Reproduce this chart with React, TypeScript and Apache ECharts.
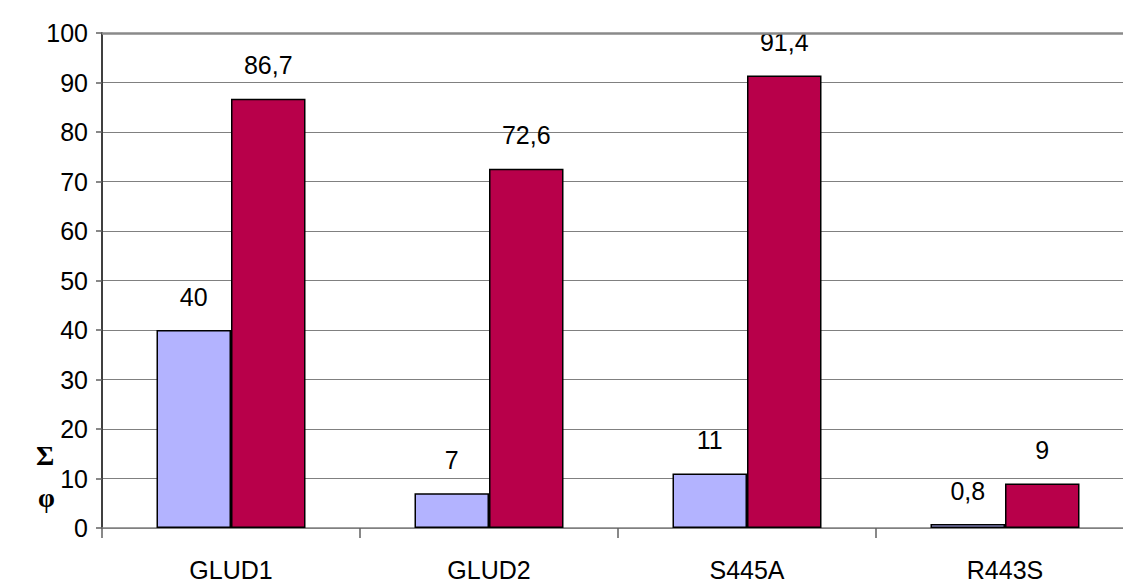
import React, { useEffect, useRef } from "react";
import * as echarts from "echarts";

const categories = ["GLUD1", "GLUD2", "S445A", "R443S"];
const seriesA = [40, 7, 11, 0.8];
const seriesB = [86.7, 72.6, 91.4, 9];
const yTicks = { min: 0, max: 100, interval: 10 };

const FONT = "'Liberation Sans Narrow', 'Arial Narrow', 'Liberation Sans', Arial, sans-serif";
const fmt = (v: number) => String(v).replace(".", ",");

export default function App() {
  const ref = useRef<HTMLDivElement>(null);

  useEffect(() => {
    if (!ref.current) return;
    const chart = echarts.init(ref.current, null, { renderer: "svg" });
    const label = {
      show: true,
      position: "top" as const,
      distance: 21,
      color: "#000",
      fontFamily: FONT,
      fontSize: 25,
      formatter: (p: any) => fmt(p.value),
    };
    chart.setOption({
      animation: false,
      backgroundColor: "#fff",
      grid: {
        left: 102,
        top: 33,
        right: -11,
        bottom: 60,
        containLabel: false,
        outerBoundsMode: "none",
      },
      xAxis: {
        type: "category",
        data: categories,
        boundaryGap: true,
        axisLine: { lineStyle: { color: "#808080", width: 1.5 } },
        axisTick: { show: true, length: 10, lineStyle: { color: "#606060", width: 1.5 } },
        axisLabel: { color: "#000", fontFamily: FONT, fontSize: 25, margin: 29 },
      },
      yAxis: {
        type: "value",
        min: yTicks.min,
        max: yTicks.max,
        interval: yTicks.interval,
        axisLine: { show: true, lineStyle: { color: "#404040", width: 2 } },
        axisTick: { show: true, length: 6, lineStyle: { color: "#606060", width: 1.5 } },
        axisLabel: { color: "#000", fontFamily: FONT, fontSize: 25, margin: 14 },
        splitLine: { show: true, lineStyle: { color: "#808080", width: 1 } },
      },
      graphic: [
        {
          type: "text",
          left: 36,
          top: 441,
          style: { text: "Σ", font: "bold 28px 'Liberation Serif', 'DejaVu Serif', serif", fill: "#000" },
        },
        {
          type: "text",
          left: 38,
          top: 484,
          style: { text: "φ", font: "bold 27px 'Liberation Serif', 'DejaVu Serif', serif", fill: "#000" },
        },
      ],
      series: [
        {
          type: "bar",
          data: seriesA,
          barWidth: 74.5,
          barGap: "0%",
          itemStyle: { color: "#B3B3FF", borderColor: "#000", borderWidth: 1.5 },
          label,
        },
        {
          type: "bar",
          data: seriesB,
          barWidth: 74.5,
          barGap: "0%",
          itemStyle: { color: "#B8004A", borderColor: "#000", borderWidth: 1.5 },
          label,
          markLine: {
            silent: true,
            symbol: "none",
            label: { show: false },
            lineStyle: { color: "#8a8a8a", width: 2.5, type: "solid" },
            data: [{ yAxis: 100 }],
          },
        },
      ],
    });
    return () => chart.dispose();
  }, []);

  return (
    <div
      ref={ref}
      style={{ position: "absolute", left: 0, top: 0, width: 1123, height: 588 }}
    />
  );
}
